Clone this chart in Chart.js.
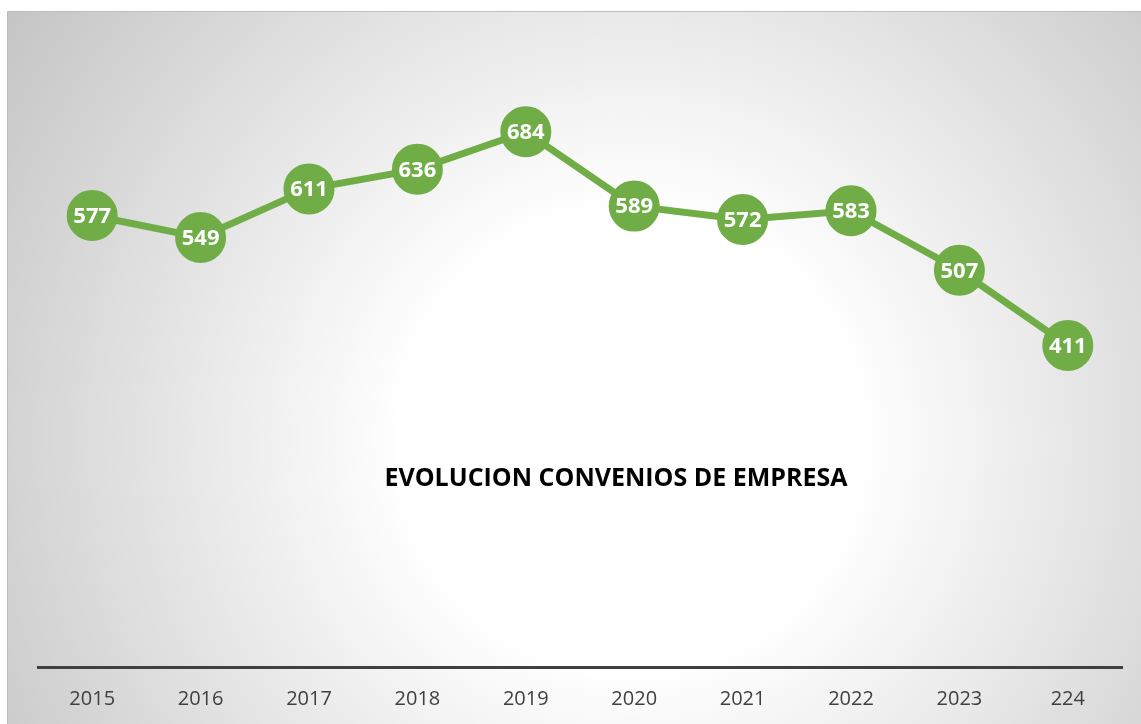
<!DOCTYPE html>
<html lang="es">
<head>
<meta charset="UTF-8">
<title>Evolucion convenios de empresa</title>
<script src="https://cdn.jsdelivr.net/npm/chart.js@4.4.1/dist/chart.umd.min.js"></script>
<style>
  html, body { margin: 0; padding: 0; background: #fff; }
  canvas { display: block; }
</style>
</head>
<body>
<canvas id="grafico" width="1141" height="724"></canvas>
<script>
// datos
const anios = ['2015', '2016', '2017', '2018', '2019', '2020', '2021', '2022', '2023', '224'];
const convenios = [577, 549, 611, 636, 684, 589, 572, 583, 507, 411];
const titulo = 'EVOLUCION CONVENIOS DE EMPRESA';

const verde = '#70AD47';

// fondo con degradado radial y marco
const fondo = {
  id: 'fondo',
  beforeDraw(chart) {
    const ctx = chart.ctx;
    const x0 = 7, y0 = 11, w = chart.width - x0, h = chart.height - y0;
    ctx.save();
    const g = ctx.createRadialGradient(630, 440, 0, 630, 440, 760);
    g.addColorStop(0, '#ffffff');
    g.addColorStop(0.3, '#ffffff');
    g.addColorStop(1, '#c4c4c4');
    ctx.fillStyle = g;
    ctx.fillRect(x0, y0, w, h);
    ctx.strokeStyle = '#bdbdbd';
    ctx.lineWidth = 1;
    ctx.beginPath();
    ctx.moveTo(x0 + 0.5, chart.height);
    ctx.lineTo(x0 + 0.5, y0 + 0.5);
    ctx.lineTo(chart.width, y0 + 0.5);
    ctx.stroke();
    ctx.restore();
  }
};

// etiquetas de valor dentro de los marcadores y titulo
const etiquetas = {
  id: 'etiquetas',
  afterDatasetsDraw(chart) {
    const ctx = chart.ctx;
    const meta = chart.getDatasetMeta(0);
    ctx.save();
    ctx.fillStyle = '#ffffff';
    ctx.font = 'bold 22px "Open Sans", sans-serif';
    ctx.textAlign = 'center';
    ctx.textBaseline = 'middle';
    meta.data.forEach((p, i) => {
      ctx.fillText(String(chart.data.datasets[0].data[i]), p.x, p.y + 1);
    });
    ctx.fillStyle = '#000000';
    ctx.font = 'bold 25px "Open Sans", sans-serif';
    ctx.fillText(titulo, 616, 479);
    ctx.restore();
  }
};

new Chart(document.getElementById('grafico'), {
  type: 'line',
  data: {
    labels: anios,
    datasets: [{
      data: convenios,
      borderColor: verde,
      borderWidth: 7,
      backgroundColor: verde,
      pointBackgroundColor: verde,
      pointBorderColor: verde,
      pointRadius: 22,
      pointHoverRadius: 22,
      tension: 0,
      fill: false
    }]
  },
  options: {
    responsive: false,
    animation: false,
    events: [],
    layout: { autoPadding: false, padding: { left: 38, right: 19, top: 41, bottom: -7 } },
    plugins: {
      legend: { display: false },
      tooltip: { enabled: false },
      title: { display: false }
    },
    scales: {
      x: {
        offset: true,
        grid: { display: false, drawTicks: false },
        border: { color: '#404040', width: 3 },
        ticks: {
          color: '#404040',
          padding: 20,
          font: { family: '"Open Sans", sans-serif', size: 20 }
        },
        // sin margen extra a los lados por las etiquetas
        afterFit(scale) {
          scale.paddingLeft = 0;
          scale.paddingRight = 0;
        }
      },
      y: {
        display: false,
        min: 0,
        max: 800
      }
    }
  },
  plugins: [fondo, etiquetas]
});
</script>
</body>
</html>
